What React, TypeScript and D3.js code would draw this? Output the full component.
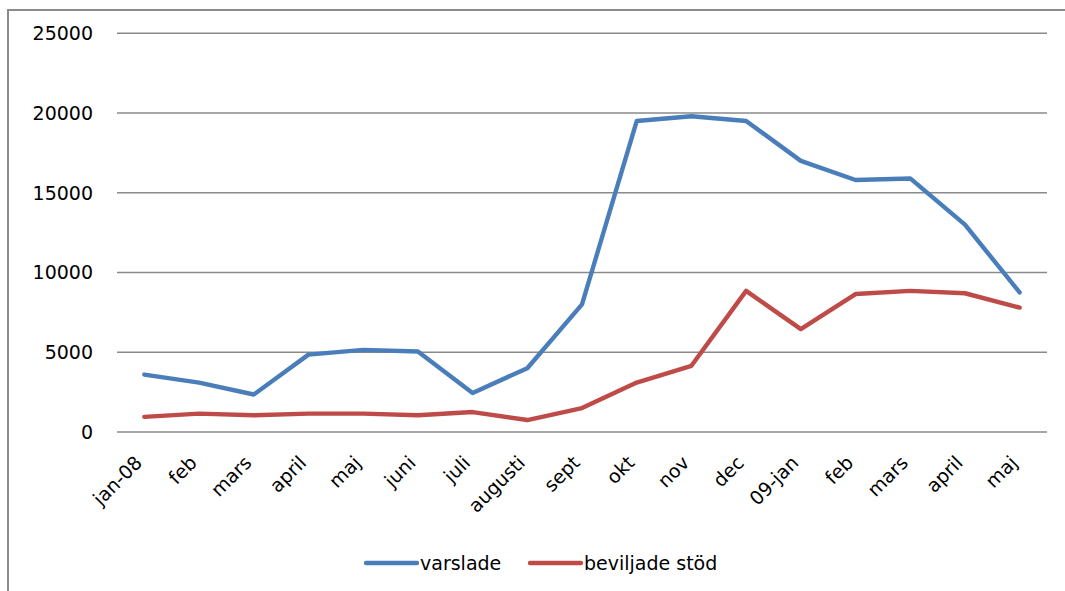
import React from "react";
import * as d3 from "d3";

const categories = ["jan-08", "feb", "mars", "april", "maj", "juni", "juli", "augusti", "sept", "okt", "nov", "dec", "09-jan", "feb ", "mars ", "april ", "maj "];
const varslade = [3600, 3100, 2350, 4850, 5150, 5050, 2450, 4000, 8000, 19500, 19800, 19500, 17000, 15800, 15900, 13000, 8750];
const beviljade = [950, 1150, 1050, 1150, 1150, 1050, 1250, 750, 1500, 3100, 4150, 8850, 6450, 8650, 8850, 8700, 7800];
const yTicks = [0, 5000, 10000, 15000, 20000, 25000];
const seriesNames = ["varslade", "beviljade stöd"];
const colors = ["#4a7ebb", "#be4b48"];

const W = 1065, H = 591;
const left = 117, right = 1047, top = 33.3, bottom = 432;
const font = "'DejaVu Sans', Verdana, sans-serif";

export default function App() {
  const x = d3.scaleBand<string>().domain(categories).range([left, right]);
  const y = d3.scaleLinear().domain([0, 25000]).range([bottom, top]);
  const line = d3.line<number>()
    .x((_, i) => (x(categories[i]) as number) + x.bandwidth() / 2)
    .y((d) => y(d));
  const series = [varslade, beviljade];
  return (
    <svg width={W} height={H} style={{ position: "absolute", left: 0, top: 0, background: "#fff" }} fontFamily={font}>
      <rect x={8} y={10} width={1100} height={640} fill="#fff" stroke="#8c8c8c" strokeWidth={2} />
      {yTicks.map((t) => (
        <g key={t}>
          <line x1={left} x2={right} y1={y(t)} y2={y(t)} stroke="#8a8a8a" strokeWidth={1.5} />
          <text x={93} y={y(t)} dy="0.36em" textAnchor="end" fontSize={19} fill="#000">{t}</text>
        </g>
      ))}
      {categories.map((c) => {
        const cx = (x(c) as number) + x.bandwidth() / 2;
        return (
          <text key={c} transform={`translate(${cx - 1},${464}) rotate(-45)`} textAnchor="end" fontSize={19} fill="#000">{c.trim()}</text>
        );
      })}
      {series.map((s, i) => (
        <path key={i} d={line(s) as string} fill="none" stroke={colors[i]} strokeWidth={4.4} strokeLinejoin="round" strokeLinecap="round" />
      ))}
      {seriesNames.map((n, i) => {
        const lx = i === 0 ? 366 : 530;
        return (
          <g key={n}>
            <line x1={lx} x2={lx + 51} y1={563} y2={563} stroke={colors[i]} strokeWidth={4.4} strokeLinecap="round" />
            <text x={lx + 54} y={563} dy="0.36em" fontSize={19} fill="#000">{n}</text>
          </g>
        );
      })}
    </svg>
  );
}
